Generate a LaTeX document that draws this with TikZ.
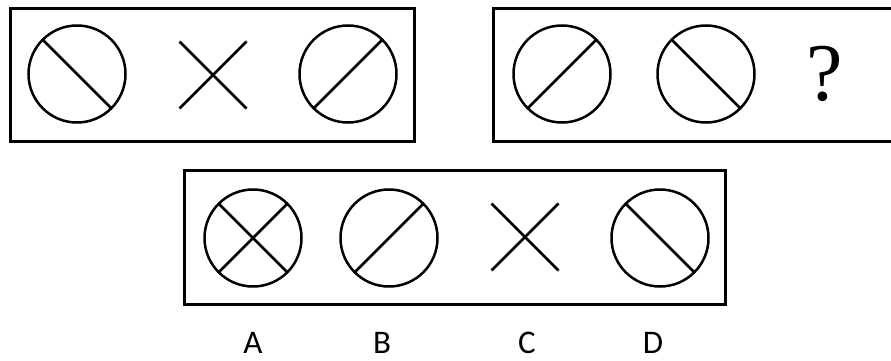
\documentclass[tikz,border=0pt]{standalone}
\usepackage{fontspec}
\newfontfamily\labelfont{Carlito}
\newfontfamily\queryfont{Liberation Serif}
\usepackage{tikz}
\usetikzlibrary{positioning}

\begin{document}
\begin{tikzpicture}[
    x=1pt, y=-1pt,
    % Frames
    frame/.style={draw=black, line width=3pt},
    % Figures
    ring/.style={circle, draw=black, line width=2.5pt, minimum size=97pt, inner sep=0pt, outer sep=0pt},
    cross/.style={rectangle, minimum size=67pt, inner sep=0pt, outer sep=0pt},
    stroke/.style={draw=black, line width=2.5pt},
    % Texts
    query/.style={font=\queryfont\fontsize{82}{82}\selectfont, inner sep=0pt},
    choice/.style={font=\labelfont\fontsize{33}{33}\selectfont, inner sep=0pt}
]
\clip (0,0) rectangle (891,361);

% Frames
\draw[frame] (10.5,8.5) rectangle (414.5,141.5);
\draw[frame] (493.5,8.5) rectangle (900,141.5);
\draw[frame] (184.5,170.5) rectangle (725.5,304.5);

% First row - left frame
\node[ring] (r1) at (77,74) {};
\node[cross] (x1) at (213,75) {};
\node[ring] (r2) at (348,74) {};
\draw[stroke] (r1.135) -- (r1.-45);
\draw[stroke] (x1.north west) -- (x1.south east);
\draw[stroke] (x1.south west) -- (x1.north east);
\draw[stroke] (r2.-135) -- (r2.45);

% First row - right frame
\node[ring] (r3) at (562,74) {};
\node[ring] (r4) at (706,74) {};
\node[query] (q) at (825,74) {?};
\draw[stroke] (r3.-135) -- (r3.45);
\draw[stroke] (r4.135) -- (r4.-45);

% Options
\node[ring] (ra) at (253,238) {};
\node[ring] (rb) at (389,238) {};
\node[cross] (xc) at (525,237) {};
\node[ring] (rd) at (660,238) {};
\draw[stroke] (ra.135) -- (ra.-45);
\draw[stroke] (ra.-135) -- (ra.45);
\draw[stroke] (rb.-135) -- (rb.45);
\draw[stroke] (xc.north west) -- (xc.south east);
\draw[stroke] (xc.south west) -- (xc.north east);
\draw[stroke] (rd.135) -- (rd.-45);

% Option labels
\node[choice] (la) at (253,343) {A};
\node[choice] (lb) at (382,343) {B};
\node[choice] (lc) at (527,343) {C};
\node[choice] (ld) at (653,343) {D};
\end{tikzpicture}
\end{document}
